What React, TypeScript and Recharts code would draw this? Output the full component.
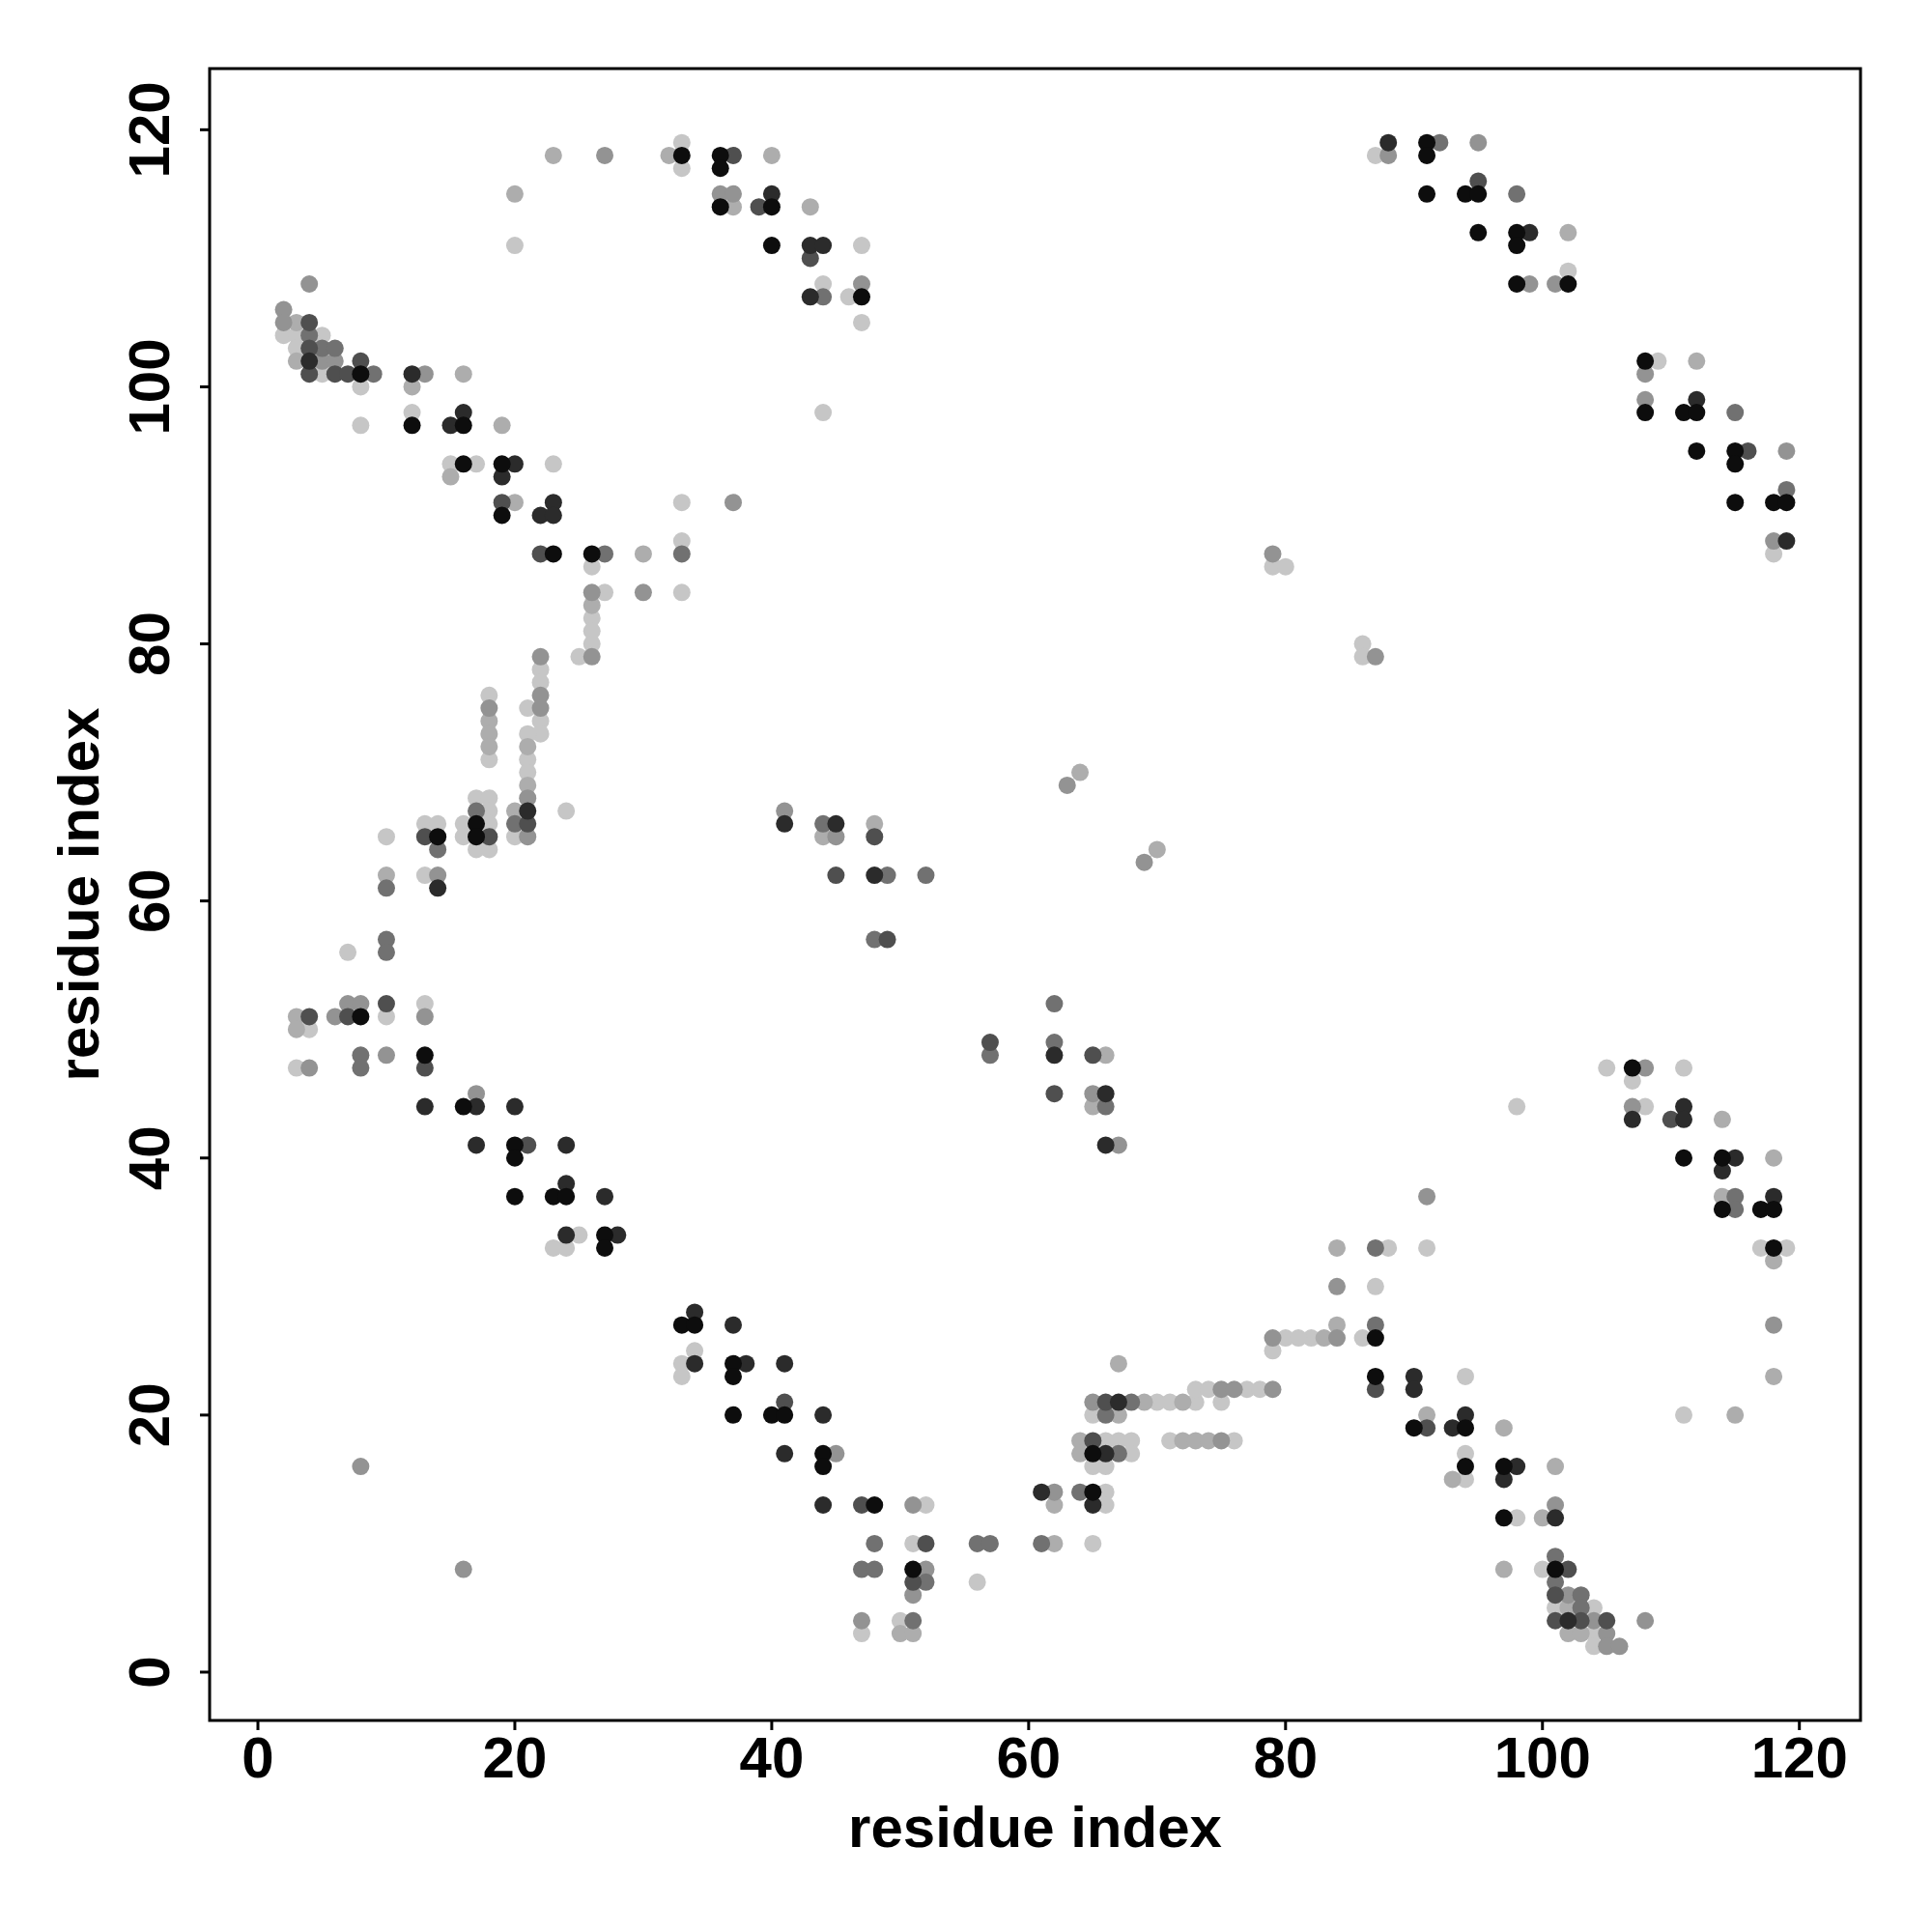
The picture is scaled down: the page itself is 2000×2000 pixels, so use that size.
import React from "react"
import { ScatterChart, Scatter, XAxis, YAxis, ReferenceArea } from "recharts"

// contact pairs [i, j] grouped by shade (0 = darkest)
const level0 = [
  [33, 118], [36, 118], [36, 117], [36, 114], [8, 101], [12, 97], [16, 97], [16, 94], [19, 94], [19, 90], [23, 87], [26, 87],
  [40, 114], [40, 111], [47, 107],
  [91, 119], [91, 118], [91, 115], [94, 115], [95, 115], [95, 112], [98, 112], [98, 111], [98, 108], [102, 108], [108, 102],
  [108, 98], [111, 98], [112, 98], [112, 95], [115, 95], [115, 94], [115, 91], [118, 91], [119, 91],
  [8, 51], [17, 66], [17, 65], [14, 65], [13, 48], [16, 44], [20, 41], [20, 40],
  [20, 37], [23, 37], [24, 37], [27, 34], [27, 33], [33, 27], [34, 27], [37, 24], [37, 23], [37, 20],
  [107, 47], [111, 40], [114, 40],
  [114, 36], [117, 36], [118, 36], [118, 33], [87, 26], [87, 23], [90, 19], [94, 19], [94, 16], [97, 16], [97, 12], [101, 8],
  [40, 20], [41, 20], [44, 17], [44, 16], [48, 13], [51, 8], [65, 17], [65, 14],
]

const level1 = [
  [4, 102], [12, 101], [16, 98], [15, 97], [20, 94], [19, 93], [22, 90], [23, 91], [23, 90],
  [40, 115], [43, 111], [44, 111], [43, 107],
  [88, 119], [99, 112], [112, 99], [119, 88],
  [21, 67], [14, 61], [13, 44], [17, 44], [20, 44], [17, 41], [24, 41],
  [24, 38], [27, 37], [24, 34], [28, 34], [34, 28], [37, 27], [34, 24], [38, 24],
  [41, 66], [45, 66], [48, 62], [62, 48], [66, 45], [66, 41],
  [107, 43], [111, 44], [111, 43], [115, 40],
  [114, 39], [118, 37], [90, 23], [90, 22], [93, 19], [94, 20], [98, 16], [97, 15], [101, 12], [102, 4],
  [41, 24], [44, 20], [41, 17], [44, 13], [67, 21], [66, 17], [61, 14], [65, 13],
]

const level2 = [
  [37, 118], [39, 114], [4, 105], [4, 103], [4, 101], [6, 101], [7, 101], [8, 102], [19, 91], [22, 87],
  [43, 110], [95, 116], [116, 95],
  [13, 65], [21, 66], [18, 65], [4, 51], [7, 51], [10, 52], [13, 47], [21, 41],
  [48, 65], [45, 62], [49, 57], [57, 49], [65, 48], [62, 45],
  [110, 43],
  [87, 22], [91, 19], [102, 8], [101, 6], [101, 4], [103, 4], [105, 4],
  [41, 21], [66, 21], [65, 18], [47, 13], [52, 10], [51, 7],
]

const level3 = [
  [4, 104], [5, 103], [6, 103], [9, 101], [27, 87], [33, 87],
  [44, 107],
  [92, 119], [98, 115], [115, 98], [119, 92],
  [10, 61], [14, 64], [20, 66], [17, 67], [10, 57], [10, 56], [8, 48], [8, 47],
  [44, 66], [49, 62], [52, 62], [48, 57], [62, 52], [57, 48], [62, 49], [66, 44],
  [115, 37], [115, 36], [87, 33], [87, 27], [101, 9], [101, 7], [103, 6], [103, 5],
  [68, 21], [66, 20], [67, 17], [64, 14], [48, 10], [56, 10], [57, 10], [61, 10], [47, 8], [48, 8], [52, 7], [51, 4],
]

const level4 = [
  [27, 118], [36, 115], [37, 115], [4, 108], [2, 106], [2, 105], [5, 102], [6, 102], [13, 101], [37, 91], [26, 84], [30, 84],
  [47, 108], [79, 87],
  [88, 118], [95, 119], [99, 108], [101, 108], [108, 101], [108, 99], [119, 95], [118, 88],
  [26, 79], [22, 79], [22, 76], [22, 75], [21, 68], [21, 65], [18, 75], [14, 62], [6, 51], [7, 52], [8, 52], [13, 51],
  [4, 47], [10, 48], [17, 45],
  [8, 16], [16, 8],
  [41, 67], [45, 65], [63, 69], [69, 63], [65, 45], [67, 41],
  [87, 79], [108, 47], [107, 44],
  [91, 37], [84, 30], [84, 26], [118, 27], [101, 13], [102, 6], [104, 4], [108, 4], [105, 3], [105, 2], [106, 2],
  [79, 26], [65, 21], [75, 22], [76, 22], [79, 22], [75, 18], [62, 14], [45, 17], [51, 13], [52, 8], [51, 6], [47, 4],
]

const level5 = [
  [23, 118], [32, 118], [37, 114], [20, 115], [3, 105], [3, 102], [12, 100], [16, 101], [19, 97], [15, 93], [20, 91],
  [30, 87], [26, 83],
  [40, 118], [43, 114],
  [102, 112], [112, 102],
  [18, 74], [18, 73], [18, 72], [21, 72], [21, 69], [20, 67], [10, 62], [3, 51], [3, 50],
  [44, 65], [48, 66], [64, 70], [70, 64], [66, 48], [65, 44],
  [114, 43], [118, 40],
  [114, 37], [118, 32], [118, 23], [115, 20], [84, 33], [84, 27], [83, 26], [91, 20], [97, 19], [93, 15], [101, 16],
  [100, 12], [97, 8], [102, 5], [102, 3], [103, 3],
  [67, 24], [69, 21], [72, 21], [67, 20], [64, 18], [72, 18], [73, 18], [74, 18], [64, 17], [62, 13], [62, 10], [50, 3], [51, 3],
]

const level6 = [
  [33, 119], [33, 117], [20, 111], [2, 104], [3, 104], [5, 104], [3, 103], [5, 101], [8, 100], [12, 98], [8, 97], [15, 94],
  [17, 94], [23, 94], [33, 91], [26, 86], [33, 88], [27, 84], [33, 84], [26, 82],
  [47, 111], [44, 108], [46, 107], [47, 105], [44, 98], [79, 86], [80, 86],
  [87, 118], [102, 109], [109, 102], [118, 87],
  [26, 81], [26, 80], [25, 79], [22, 78], [22, 77], [22, 74], [22, 73], [21, 75], [21, 73], [21, 71], [21, 70], [20, 65],
  [18, 76], [18, 71], [17, 68], [18, 68], [18, 67], [18, 66], [16, 66], [16, 65], [17, 64], [18, 64], [24, 67], [13, 66],
  [14, 66], [10, 65], [13, 62], [7, 56], [4, 50], [10, 51], [13, 52], [3, 47],
  [25, 34], [23, 33], [24, 33], [34, 25], [33, 24], [33, 23],
  [86, 80], [86, 79], [105, 47], [111, 47], [107, 46], [98, 44], [108, 44],
  [117, 33], [119, 33], [111, 20], [88, 33], [91, 33], [87, 30], [82, 26], [86, 26], [94, 23], [94, 17], [94, 15],
  [98, 12], [100, 8], [101, 5], [104, 5], [104, 3], [104, 2],
  [80, 26], [81, 26], [79, 25], [70, 21], [71, 21], [73, 21], [73, 22], [74, 22], [77, 22], [78, 22], [75, 21], [65, 20],
  [66, 18], [67, 18], [68, 18], [71, 18], [76, 18], [68, 17], [65, 16], [66, 16], [66, 14], [66, 13], [52, 13], [51, 10],
  [65, 10], [56, 7], [47, 3], [50, 4],
]

const shades = ["#0d0d0d", "#2b2b2b", "#4f4f4f", "#717171", "#939393", "#adadad", "#c6c6c6"]
const levels = [level0, level1, level2, level3, level4, level5, level6]
const ticks = [0, 20, 40, 60, 80, 100, 120]
const domain: [number, number] = [-3.76, 124.76]

const font = "'Liberation Sans', Arial, Helvetica, sans-serif"

const YTick = (props: any) => {
  const { x, y, payload } = props
  return (
    <text
      x={x}
      y={y}
      transform={`rotate(-90 ${x} ${y})`}
      textAnchor="middle"
      fontSize={60}
      fontWeight={700}
      fontFamily={font}
      fill="#000"
    >
      {payload.value}
    </text>
  )
}

export default function App() {
  // darkest drawn last so it sits on top
  const order = [6, 5, 4, 3, 2, 1, 0]
  return (
    <div style={{ width: 1960, height: 1984, background: "#fff" }}>
      <ScatterChart width={1960} height={1984} margin={{ top: 63, right: 42, bottom: 11, left: 9 }}>
        <XAxis
          type="number"
          dataKey="x"
          domain={domain}
          ticks={ticks}
          allowDataOverflow
          height={200}
          axisLine={false}
          tickLine={{ stroke: "#000", strokeWidth: 3 }}
          tickSize={10}
          tickMargin={6}
          tick={{ fontSize: 60, fontWeight: 700, fill: "#000", fontFamily: font }}
          label={{
            content: (p: any) => {
              const vb = p.viewBox
              return (
                <text
                  x={vb.x + vb.width / 2}
                  y={vb.y + 131}
                  textAnchor="middle"
                  fontSize={60}
                  fontWeight={700}
                  fontFamily={font}
                  fill="#000"
                >
                  residue index
                </text>
              )
            },
          }}
        />
        <YAxis
          type="number"
          dataKey="y"
          domain={domain}
          ticks={ticks}
          allowDataOverflow
          width={200}
          axisLine={false}
          tickLine={{ stroke: "#000", strokeWidth: 3 }}
          tickSize={10}
          tickMargin={32}
          tick={<YTick />}
          label={{
            content: (p: any) => {
              const vb = p.viewBox
              const lx = vb.x + 85
              const ly = vb.y + vb.height / 2
              return (
                <text
                  x={lx}
                  y={ly}
                  transform={`rotate(-90 ${lx} ${ly})`}
                  textAnchor="middle"
                  fontSize={60}
                  fontWeight={700}
                  fontFamily={font}
                  fill="#000"
                >
                  residue index
                </text>
              )
            },
          }}
        />
        <ReferenceArea
          x1={domain[0]}
          x2={domain[1]}
          y1={domain[0]}
          y2={domain[1]}
          fill="none"
          fillOpacity={0}
          stroke="#000"
          strokeWidth={3}
          ifOverflow="visible"
        />
        {order.map((i) => (
          <Scatter
            key={i}
            data={levels[i].map(([x, y]) => ({ x, y }))}
            fill={shades[i]}
            isAnimationActive={false}
            shape={(p: any) => <circle cx={p.cx} cy={p.cy} r={9} fill={shades[i]} />}
          />
        ))}
      </ScatterChart>
    </div>
  )
}
